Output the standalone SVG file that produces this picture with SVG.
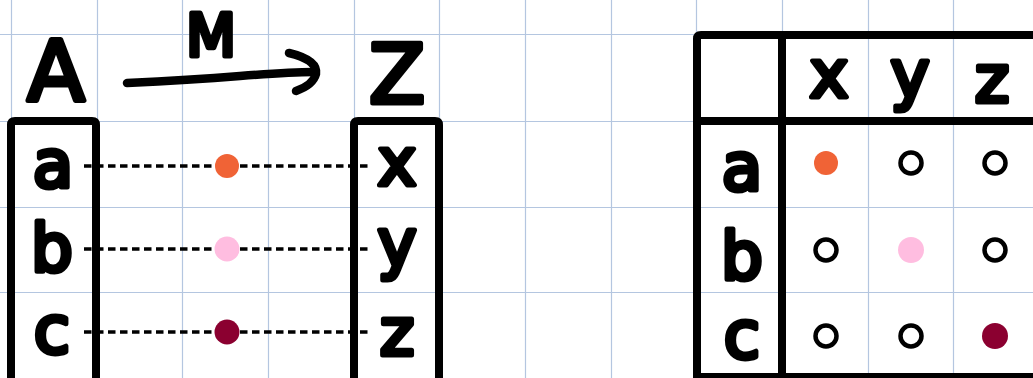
<svg xmlns="http://www.w3.org/2000/svg" width="1033" height="378" viewBox="0 0 1033 378">
<style>
.grid{stroke:#b4c6e0;stroke-width:1.2;fill:none}
.box{fill:none;stroke:#000;stroke-width:8;stroke-linejoin:round}
.hw{font-family:"DejaVu Sans",sans-serif;fill:#000;stroke:#000;stroke-width:5;stroke-linejoin:round;text-anchor:middle}
.lc{font-size:66px}
.dash{stroke:#000;stroke-width:3.5;stroke-dasharray:7.5 4.5;fill:none}
.ring{fill:none;stroke:#000;stroke-width:4.5}
.o{fill:#f06336}.p{fill:#ffbde0}.m{fill:#8b0030}
</style>
<rect width="1033" height="378" fill="#fff"/>
<g id="grid">
<path class="grid" d="M11.5 0V378M97.5 0V378M182.5 0V378M268.5 0V378M354.5 0V378M439.5 0V378M525.5 0V378M611.5 0V378M696.5 0V378M782.5 0V378M868.5 0V378M953.5 0V378M1039.5 0V378M0 34.5H1033M0 121.5H1033M0 207.5H1033M0 292.5H1033"/>
</g>
<g id="connectors">
<path d="M127 83 Q190 80 240 76 T313 72" fill="none" stroke="#000" stroke-width="8.5" stroke-linecap="round"/>
<path d="M289 53 Q318 60 316 74 Q313 85 296 91" fill="none" stroke="#000" stroke-width="8.5" stroke-linecap="round" stroke-linejoin="round"/>
<path class="dash" d="M84 166H370M84 249H370M84 332H370"/>
</g>
<g id="label-M"><text class="hw" x="211" y="56" font-size="58">M</text></g>
<g id="set-A">
<text class="hw" x="56" y="101" font-size="84">A</text>
<path class="box" d="M11 390V125Q11 121 15 121H92Q96 121 96 125V390"/>
<text class="hw lc" x="53" y="187">a</text>
<text class="hw lc" x="52" y="271">b</text>
<text class="hw lc" x="52" y="353">c</text>
</g>
<g id="set-Z">
<text class="hw" x="397" y="103" font-size="82">Z</text>
<path class="box" d="M354 390V125Q354 121 358 121H435Q439 121 439 125V390"/>
<text class="hw lc" x="397" y="185">x</text>
<text class="hw lc" x="397" y="266">y</text>
<text class="hw lc" x="397" y="355">z</text>
</g>
<g id="M-dots">
<circle class="o" cx="227" cy="166" r="12"/>
<circle class="p" cx="227" cy="249" r="12.5"/>
<circle class="m" cx="227" cy="332" r="12.5"/>
</g>
<g id="matrix">
<path class="box" d="M697 390V39Q697 35 701 35H1040M782 35V390M697 121H1040M697 377H1040"/>
<text class="hw lc" x="829" y="97">x</text>
<text class="hw lc" x="910" y="97">y</text>
<text class="hw lc" x="992" y="102">z</text>
<text class="hw lc" x="742" y="190">a</text>
<text class="hw lc" x="742" y="279">b</text>
<text class="hw lc" x="742" y="358">c</text>
<circle class="o" cx="826" cy="163" r="12"/>
<circle class="ring" cx="911" cy="163" r="10.5"/>
<circle class="ring" cx="995" cy="163" r="10.5"/>
<circle class="ring" cx="826" cy="250" r="10.5"/>
<circle class="p" cx="911" cy="250" r="13"/>
<circle class="ring" cx="995" cy="250" r="10.5"/>
<circle class="ring" cx="826" cy="336" r="10.5"/>
<circle class="ring" cx="911" cy="336" r="10.5"/>
<circle class="m" cx="995" cy="336" r="13"/>
</g>
</svg>
